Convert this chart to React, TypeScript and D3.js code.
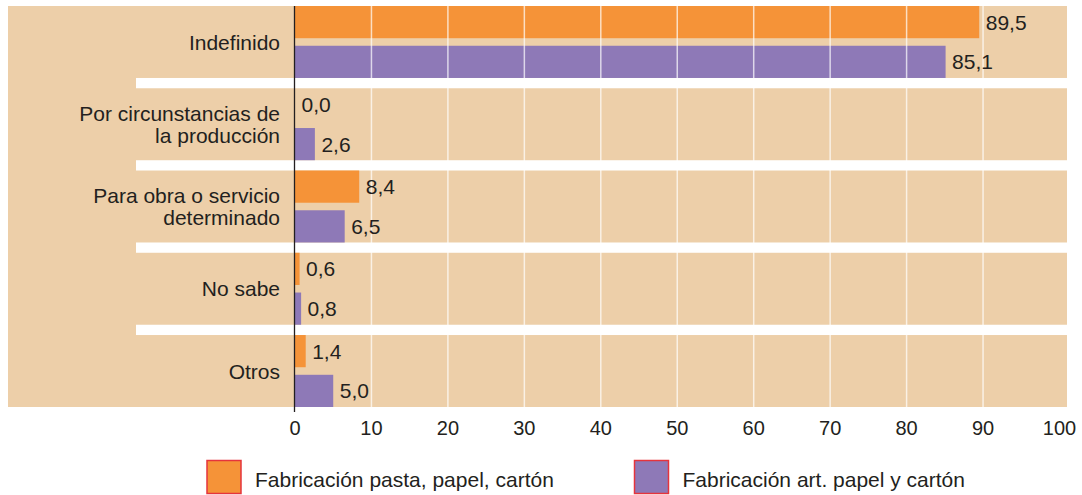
import React from "react";
import * as d3 from "d3";

const categories: string[][] = [
  ["Indefinido"],
  ["Por circunstancias de", "la producción"],
  ["Para obra o servicio", "determinado"],
  ["No sabe"],
  ["Otros"],
];
const seriesNames = ["Fabricación pasta, papel, cartón", "Fabricación art. papel y cartón"];
const pastaValues = [89.5, 0.0, 8.4, 0.6, 1.4];
const artValues = [85.1, 2.6, 6.5, 0.8, 5.0];
const xTicks = [0, 10, 20, 30, 40, 50, 60, 70, 80, 90, 100];

const W = 1082;
const H = 495;
const TAN = "#EDCFA9";
const ORANGE = "#F59338";
const PURPLE = "#8E79B7";
const TEXT = "#231F20";
const FONT = "'Liberation Sans', Arial, Helvetica, sans-serif";

export default function App() {
  const keys = categories.map((c) => c.join(" "));
  const x = d3.scaleLinear().domain([0, 100]).range([295, 1059.5]);
  const y = d3.scaleBand<string>().domain(keys).range([6, 407]).paddingInner(0.125).paddingOuter(0);
  const inner = d3.scaleBand<string>().domain(["a", "b"]).range([0, y.bandwidth()]).paddingInner(0.19).paddingOuter(0);
  const fmt = (v: number) => d3.format(".1f")(v).replace(".", ",");
  const series = [
    { key: "a", values: pastaValues, color: ORANGE },
    { key: "b", values: artValues, color: PURPLE },
  ];
  const plotRight = 1067;
  const sepLeft = 136;

  return (
    <svg width={W} height={H} style={{ position: "absolute", left: 0, top: 0, fontFamily: FONT }}>
      <rect x={8} y={6} width={plotRight - 8} height={407 - 6} fill={TAN} />
      {keys.slice(1).map((k, i) => {
        const y0 = (y(keys[i]) as number) + y.bandwidth();
        const y1 = y(k) as number;
        return <rect key={k} x={sepLeft} y={y0} width={plotRight - sepLeft} height={y1 - y0} fill="#fff" />;
      })}
      {keys.map((k, i) =>
        series.map((s) => {
          const by = (y(k) as number) + (inner(s.key) as number);
          const v = s.values[i];
          return (
            <rect key={k + s.key} x={x(0)} y={by} width={x(v) - x(0)} height={inner.bandwidth()} fill={s.color} />
          );
        })
      )}
      {xTicks.slice(1, -1).map((t) => (
        <line key={t} x1={x(t)} x2={x(t)} y1={6} y2={407} stroke="#fff" strokeWidth={1.5} strokeOpacity={0.7} />
      ))}
      {keys.map((k, i) =>
        series.map((s) => {
          const by = (y(k) as number) + (inner(s.key) as number);
          const v = s.values[i];
          return (
            <text key={"l" + k + s.key} x={x(v) + 6.5} y={by + inner.bandwidth() / 2} dy="0.36em" fontSize={21} fill={TEXT}>
              {fmt(v)}
            </text>
          );
        })
      )}
      <line x1={294.5} x2={294.5} y1={6} y2={412} stroke={TEXT} strokeWidth={1.3} />
      {xTicks.map((t) => (
        <text key={t} x={x(t)} y={435} textAnchor="middle" fontSize={20} fill={TEXT}>
          {t}
        </text>
      ))}
      {categories.map((lines, i) => {
        const cy = (y(keys[i]) as number) + y.bandwidth() / 2;
        const lh = 22;
        return (
          <text key={keys[i]} textAnchor="end" fontSize={21} fill={TEXT}>
            {lines.map((l, j) => (
              <tspan key={j} x={280} y={cy + (j - (lines.length - 1) / 2) * lh} dy="0.36em">
                {l}
              </tspan>
            ))}
          </text>
        );
      })}
      {seriesNames.map((name, i) => {
        const bx = i === 0 ? 207 : 634.5;
        return (
          <g key={name}>
            <rect x={bx} y={460.5} width={34} height={33} fill={series[i].color} stroke="#E5343C" strokeWidth={1.5} />
            <text x={bx + 48} y={479} dy="0.36em" fontSize={21} fill={TEXT}>
              {name}
            </text>
          </g>
        );
      })}
    </svg>
  );
}
